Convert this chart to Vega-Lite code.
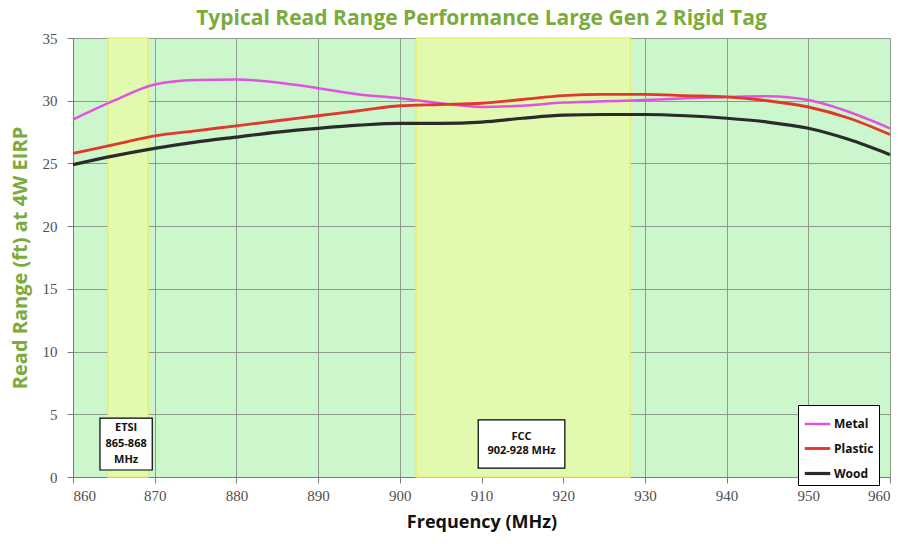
{
  "$schema": "https://vega.github.io/schema/vega-lite/v6.json",
  "autosize": "none",
  "width": 817,
  "height": 439,
  "padding": {"left": 73, "top": 38, "right": 27, "bottom": 67},
  "background": "white",
  "title": {
    "text": "Typical Read Range Performance Large Gen 2 Rigid Tag",
    "font": "Open Sans",
    "fontSize": 21,
    "fontWeight": "bold",
    "color": "#7aab3c",
    "anchor": "middle",
    "offset": 2
  },
  "config": {
    "view": {"fill": "#ccf7cc", "stroke": null},
    "axis": {
      "labelFont": "'Liberation Serif', 'Times New Roman', serif",
      "labelFontSize": 15,
      "labelColor": "#505050",
      "gridColor": "#8c9c8c",
      "gridOpacity": 1,
      "domainColor": "#7a7a7a",
      "tickColor": "#7a7a7a",
      "tickSize": 6
    }
  },
  "datasets": {
    "curves": [
      {"f": 860, "r": 28.5, "m": "Metal"}, {"f": 865, "r": 30.0, "m": "Metal"}, {"f": 870, "r": 31.3, "m": "Metal"}, {"f": 875, "r": 31.65, "m": "Metal"}, {"f": 880, "r": 31.7, "m": "Metal"}, {"f": 885, "r": 31.45, "m": "Metal"}, {"f": 890, "r": 31.0, "m": "Metal"}, {"f": 895, "r": 30.5, "m": "Metal"}, {"f": 900, "r": 30.2, "m": "Metal"}, {"f": 905, "r": 29.8, "m": "Metal"}, {"f": 910, "r": 29.5, "m": "Metal"}, {"f": 915, "r": 29.6, "m": "Metal"}, {"f": 920, "r": 29.85, "m": "Metal"}, {"f": 925, "r": 29.95, "m": "Metal"}, {"f": 930, "r": 30.05, "m": "Metal"}, {"f": 935, "r": 30.2, "m": "Metal"}, {"f": 940, "r": 30.3, "m": "Metal"}, {"f": 945, "r": 30.35, "m": "Metal"}, {"f": 950, "r": 30.05, "m": "Metal"}, {"f": 955, "r": 29.1, "m": "Metal"}, {"f": 960, "r": 27.8, "m": "Metal"},
      {"f": 860, "r": 25.8, "m": "Plastic"}, {"f": 865, "r": 26.5, "m": "Plastic"}, {"f": 870, "r": 27.2, "m": "Plastic"}, {"f": 875, "r": 27.6, "m": "Plastic"}, {"f": 880, "r": 28.0, "m": "Plastic"}, {"f": 885, "r": 28.4, "m": "Plastic"}, {"f": 890, "r": 28.8, "m": "Plastic"}, {"f": 895, "r": 29.2, "m": "Plastic"}, {"f": 900, "r": 29.6, "m": "Plastic"}, {"f": 905, "r": 29.7, "m": "Plastic"}, {"f": 910, "r": 29.8, "m": "Plastic"}, {"f": 915, "r": 30.1, "m": "Plastic"}, {"f": 920, "r": 30.4, "m": "Plastic"}, {"f": 925, "r": 30.5, "m": "Plastic"}, {"f": 930, "r": 30.5, "m": "Plastic"}, {"f": 935, "r": 30.4, "m": "Plastic"}, {"f": 940, "r": 30.3, "m": "Plastic"}, {"f": 945, "r": 30.0, "m": "Plastic"}, {"f": 950, "r": 29.5, "m": "Plastic"}, {"f": 955, "r": 28.6, "m": "Plastic"}, {"f": 960, "r": 27.3, "m": "Plastic"},
      {"f": 860, "r": 24.9, "m": "Wood"}, {"f": 865, "r": 25.6, "m": "Wood"}, {"f": 870, "r": 26.2, "m": "Wood"}, {"f": 875, "r": 26.7, "m": "Wood"}, {"f": 880, "r": 27.1, "m": "Wood"}, {"f": 885, "r": 27.5, "m": "Wood"}, {"f": 890, "r": 27.8, "m": "Wood"}, {"f": 895, "r": 28.05, "m": "Wood"}, {"f": 900, "r": 28.2, "m": "Wood"}, {"f": 905, "r": 28.2, "m": "Wood"}, {"f": 910, "r": 28.3, "m": "Wood"}, {"f": 915, "r": 28.6, "m": "Wood"}, {"f": 920, "r": 28.85, "m": "Wood"}, {"f": 925, "r": 28.9, "m": "Wood"}, {"f": 930, "r": 28.9, "m": "Wood"}, {"f": 935, "r": 28.8, "m": "Wood"}, {"f": 940, "r": 28.6, "m": "Wood"}, {"f": 945, "r": 28.3, "m": "Wood"}, {"f": 950, "r": 27.8, "m": "Wood"}, {"f": 955, "r": 26.9, "m": "Wood"}, {"f": 960, "r": 25.7, "m": "Wood"}
    ],
    "bands": [
      {"x1": 864.3, "x2": 869.2},
      {"x1": 902.0, "x2": 928.2}
    ],
    "boxes": [
      {"x1": 863.3, "x2": 869.7, "y1": 0.56, "y2": 4.7},
      {"x1": 909.6, "x2": 920.2, "y1": 0.7, "y2": 4.55}
    ],
    "labels": [
      {"xc": 866.5, "yc": 3.9, "label": "ETSI"},
      {"xc": 866.5, "yc": 2.62, "label": "865-868"},
      {"xc": 866.5, "yc": 1.35, "label": "MHz"},
      {"xc": 914.9, "yc": 3.19, "label": "FCC"},
      {"xc": 914.9, "yc": 2.07, "label": "902-928 MHz"}
    ]
  },
  "layer": [
    {
      "data": {"name": "bands"},
      "mark": {"type": "rect", "fill": "#e2fab0", "stroke": "#e6ee74", "strokeWidth": 1.5},
      "encoding": {
        "x": {"field": "x1", "type": "quantitative", "scale": {"domain": [860, 960], "nice": false, "zero": false},
          "axis": {"values": [860, 870, 880, 890, 900, 910, 920, 930, 940, 950, 960], "title": "Frequency (MHz)", "titleFont": "Open Sans", "titleFontSize": 18, "titleFontWeight": "bold", "titleColor": "#111111", "titlePadding": 10, "labelPadding": 5, "grid": true}},
        "x2": {"field": "x2"}
      }
    },
    {
      "data": {"name": "bands"},
      "mark": {"type": "rect", "fill": "transparent", "opacity": 0},
      "encoding": {
        "x": {"field": "x1", "type": "quantitative"},
        "x2": {"field": "x2"},
        "y": {"datum": 0, "type": "quantitative", "scale": {"domain": [0, 35], "nice": false},
          "axis": {"values": [0, 5, 10, 15, 20, 25, 30, 35], "title": "Read Range (ft) at 4W EIRP", "titleFont": "Open Sans", "titleFontSize": 20, "titleFontWeight": "bold", "titleColor": "#7aab3c", "titlePadding": 12, "labelPadding": 10, "grid": true}},
        "y2": {"datum": 35}
      }
    },
    {
      "data": {"name": "curves"},
      "mark": {"type": "line", "interpolate": "monotone"},
      "encoding": {
        "x": {"field": "f", "type": "quantitative"},
        "y": {"field": "r", "type": "quantitative"},
        "color": {"field": "m", "type": "nominal",
          "scale": {"domain": ["Metal", "Plastic", "Wood"], "range": ["#e052e0", "#e0382c", "#2b2b2b"]},
          "legend": {"title": null, "orient": "none", "legendX": 725, "legendY": 367, "fillColor": "white", "strokeColor": "#000000", "padding": 5, "labelFont": "Open Sans", "labelFontSize": 12, "labelFontWeight": "bold", "labelColor": "#111111", "symbolType": "stroke", "symbolSize": 650, "symbolStrokeWidth": 3, "rowPadding": 4, "labelOffset": 2, "labelLimit": 60}},
        "strokeWidth": {"field": "m", "type": "nominal", "scale": {"domain": ["Metal", "Plastic", "Wood"], "range": [2.5, 3.2, 2.5]}, "legend": null}
      }
    },
    {
      "data": {"name": "boxes"},
      "mark": {"type": "rect", "fill": "white", "stroke": "black", "strokeWidth": 1.2},
      "encoding": {
        "x": {"field": "x1", "type": "quantitative"},
        "x2": {"field": "x2"},
        "y": {"field": "y1", "type": "quantitative"},
        "y2": {"field": "y2"}
      }
    },
    {
      "data": {"name": "labels"},
      "mark": {"type": "text", "font": "Open Sans", "fontSize": 11, "fontWeight": "bold", "color": "#111111", "align": "center", "baseline": "middle"},
      "encoding": {
        "x": {"field": "xc", "type": "quantitative"},
        "y": {"field": "yc", "type": "quantitative"},
        "text": {"field": "label"}
      }
    }
  ]
}
